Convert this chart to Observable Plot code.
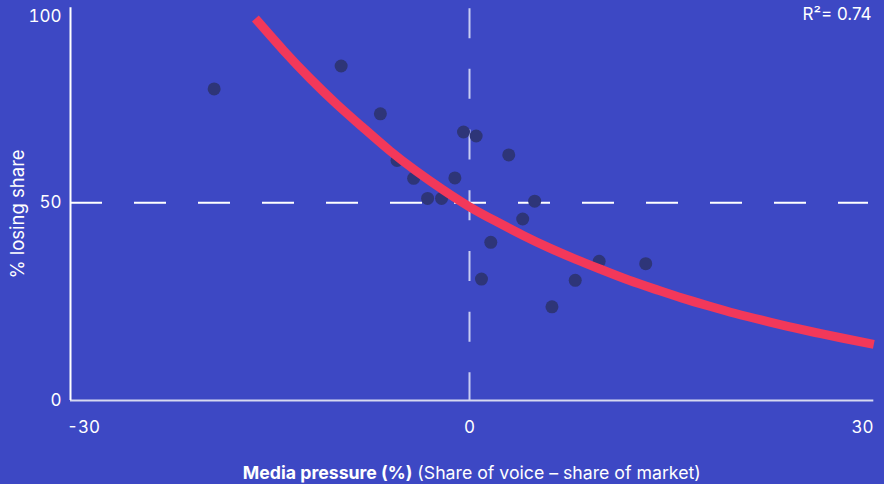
<!DOCTYPE html>
<html>
<head>
<meta charset="utf-8">
<script src="https://cdn.jsdelivr.net/npm/d3@7"></script>
<script src="https://cdn.jsdelivr.net/npm/@observablehq/plot@0.6"></script>
<style>
  html, body { margin: 0; padding: 0; background: #3d48c4; }
  #chart svg { display: block; }
</style>
</head>
<body>
<div id="chart"></div>
<script>
// Brands: media pressure (share of voice minus share of market, %) vs % losing share
const pressure = [-19.2, -9.65, -6.7, -5.45, -4.2, -3.15, -2.1, -1.1, -0.45, 0.5, 2.95, 4.9, 4.0, 1.6, 0.9, 6.2, 7.95, 9.75, 13.25];
const losing   = [78.8, 84.6, 72.5, 60.7, 56.2, 51.1, 51.1, 56.3, 67.9, 66.9, 62.1, 50.4, 45.9, 40.0, 30.7, 23.7, 30.4, 35.2, 34.6];

// Fitted trend curve
const fitX = [-16.1, -14, -12, -10, -8, -6, -4, -2, 0, 2, 4, 6, 8, 10, 12, 14, 16, 18, 20, 22, 24, 26, 28, 30.4];
const fitY = [96.6, 88.6, 81.5, 75.0, 69.0, 63.2, 58.0, 53.3, 49.0, 45.3, 41.8, 38.6, 35.7, 33.0, 30.4, 28.1, 25.9, 23.9, 22.0, 20.3, 18.7, 17.2, 15.8, 14.2];

const xTicks = [-30, 0, 30];
const yTicks = [0, 50, 100];
const rSquared = 0.74;

const points = pressure.map((x, i) => ({x, y: losing[i]}));
const fit = fitX.map((x, i) => ({x, y: fitY[i]}));

const bg = "#3d48c4";
const font = "Inter, 'Noto Sans', sans-serif";

const tickStyle = {tickSize: 0, color: "white", fontSize: 17, label: null, tickFormat: d => String(d)};

const chart = Plot.plot({
  width: 884,
  height: 484,
  marginLeft: 70,
  marginRight: 16,
  marginTop: 4.6,
  marginBottom: 84,
  style: {background: bg, fontFamily: font, color: "white", overflow: "visible"},
  x: {domain: [-30, 30]},
  y: {domain: [0, 100]},
  marks: [
    // reference lines at 50% and zero media pressure
    Plot.ruleY([50], {x1: xTicks[0], x2: xTicks[2], stroke: "white", strokeWidth: 2, strokeDasharray: "32,32"}),
    Plot.ruleX([0], {y1: 99.1, y2: 0, stroke: "#c8ccf2", strokeWidth: 2, strokeDasharray: "30,30.7"}),
    // axis lines
    Plot.ruleY([0], {x1: -30, x2: 30.4, stroke: "#d6d8f0", strokeWidth: 2}),
    Plot.ruleX([-30], {y1: 0, y2: 99.3, stroke: "white", strokeWidth: 2}),
    // brands
    Plot.dot(points, {x: "x", y: "y", r: 6.5, fill: "#2e3578", stroke: "none"}),
    // trend
    Plot.line(fit, {x: "x", y: "y", curve: "natural", stroke: "#f2385a", strokeWidth: 9, strokeLinecap: "butt"}),
    // tick labels
    Plot.axisY(yTicks.slice(0, 2), {...tickStyle, tickPadding: 9}),
    Plot.axisY(yTicks.slice(2), {...tickStyle, tickPadding: 9, dy: 11}),
    Plot.axisX(xTicks.slice(0, 1), {...tickStyle, tickPadding: 20, dx: 13}),
    Plot.axisX(xTicks.slice(1, 2), {...tickStyle, tickPadding: 20}),
    Plot.axisX(xTicks.slice(2), {...tickStyle, tickPadding: 20, dx: -6}),
    // goodness of fit
    Plot.text([`R\u00B2= ${rSquared}`], {frameAnchor: "top-right", text: d => d, fill: "white", fontSize: 17, lineAnchor: "top", dx: 3, dy: 3})
  ]
});

const svg = d3.select(chart);

// y-axis title
svg.append("text")
  .attr("transform", "translate(24,214) rotate(-90)")
  .attr("text-anchor", "middle")
  .attr("fill", "white")
  .attr("font-family", font)
  .attr("font-size", 18.5)
  .text("% losing share");

// x-axis title: bold measure, regular definition
const xTitle = svg.append("text")
  .attr("x", 471.8)
  .attr("y", 479)
  .attr("text-anchor", "middle")
  .attr("fill", "white")
  .attr("font-family", font)
  .attr("font-size", 17.7);
xTitle.append("tspan").attr("font-weight", 700).text("Media pressure (%)");
xTitle.append("tspan").text(" (Share of voice \u2013 share of market)");

document.getElementById("chart").appendChild(chart);
</script>
</body>
</html>
